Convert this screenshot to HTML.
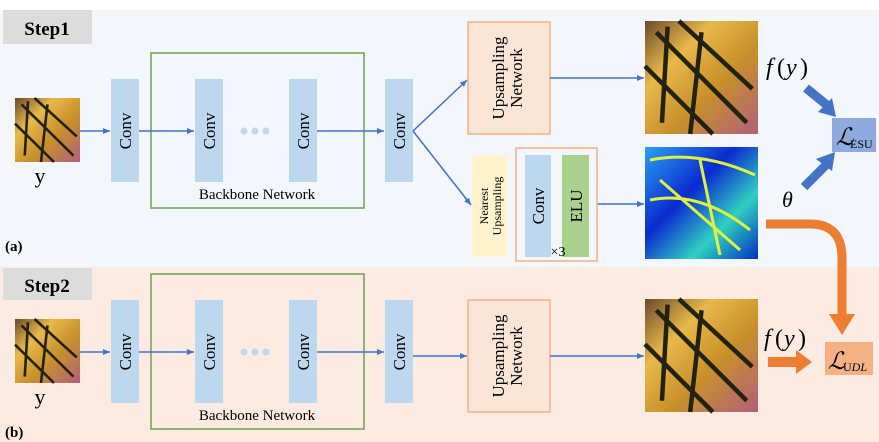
<!DOCTYPE html>
<html><head><style>body{margin:0;background:#fff;overflow:hidden}svg{display:block}</style></head><body>
<svg width="879" height="442" viewBox="0 0 879 442" xmlns="http://www.w3.org/2000/svg" font-family="Liberation Serif, serif">
<defs>
<marker id="a" markerWidth="8" markerHeight="8" refX="7" refY="4" orient="auto" markerUnits="userSpaceOnUse"><path d="M0,1 L7,4 L0,7z" fill="#4472c4"/></marker>
<linearGradient id="bf" x1="0" y1="0" x2="1" y2="1"><stop offset="0" stop-color="#6b4a2a"/><stop offset=".3" stop-color="#e8b84a"/><stop offset=".6" stop-color="#c8902a"/><stop offset="1" stop-color="#b0607a"/></linearGradient>
<linearGradient id="hm" x1="0" y1="0" x2="1" y2="1"><stop offset="0" stop-color="#2aa0f0"/><stop offset=".4" stop-color="#0a2ad0"/><stop offset=".7" stop-color="#30d0c0"/><stop offset="1" stop-color="#0030c0"/></linearGradient>
<g id="bfly"><rect width="1" height="1" fill="url(#bf)"/><path d="M.1,.1 L.9,.9 M.3,0 L.95,.6 M0,.4 L.6,1 M.2,.05 L.15,.9 M.5,.1 L.4,1" stroke="#221" stroke-width=".04" fill="none"/></g>
</defs>
<rect x="0" y="10" width="879" height="257" fill="#f3f7fc"/>
<rect x="0" y="267" width="879" height="175" fill="#fcebe2"/>
<rect x="3" y="10" width="89" height="34" fill="#dcdcdc"/>
<text x="47" y="35" font-size="19" font-weight="bold" text-anchor="middle">Step1</text>
<rect x="3" y="268" width="89" height="32" fill="#dcdcdc"/>
<text x="47" y="292" font-size="19" font-weight="bold" text-anchor="middle">Step2</text>
<text x="5" y="251" font-size="15" font-weight="bold">(a)</text>
<text x="5" y="437" font-size="15" font-weight="bold">(b)</text>

<g id="left">
<use href="#bfly" transform="translate(15,98) scale(65,64)"/>
<text x="40" y="183" font-size="22" text-anchor="middle">y</text>
<rect x="151" y="53" width="213" height="155" fill="none" stroke="#70a050" stroke-width="1.5"/>
<text x="257" y="199" font-size="15" text-anchor="middle">Backbone Network</text>
<g fill="#bdd7ee"><rect x="111" y="79" width="28" height="103"/><rect x="195" y="79" width="28" height="103"/><rect x="289" y="79" width="28" height="103"/><rect x="385" y="79" width="28" height="103"/></g>
<g fill="#bdd7ee"><circle cx="244" cy="131" r="3.5"/><circle cx="255" cy="131" r="3.5"/><circle cx="266" cy="131" r="3.5"/></g>
<g font-size="17" text-anchor="middle"><text transform="translate(131,131) rotate(-90)">Conv</text><text transform="translate(215,131) rotate(-90)">Conv</text><text transform="translate(309,131) rotate(-90)">Conv</text><text transform="translate(405,131) rotate(-90)">Conv</text></g>
<g stroke="#4472c4" stroke-width="1.5" marker-end="url(#a)"><line x1="80" y1="131" x2="110" y2="131"/><line x1="139" y1="131" x2="194" y2="131"/><line x1="317" y1="131" x2="384" y2="131"/></g>
</g>
<g id="right">
<rect x="468" y="22" width="82" height="112" fill="#fbe5d6" stroke="#f4b183" stroke-width="1.5"/>
<g font-size="17" text-anchor="middle"><text transform="translate(504,78) rotate(-90)">Upsampling</text><text transform="translate(522,78) rotate(-90)">Network</text></g>
<use href="#bfly" transform="translate(645,21) scale(113,113)"/>
<g stroke="#4472c4" stroke-width="1.5" marker-end="url(#a)"><line x1="550" y1="78" x2="644" y2="78"/></g>
</g>
<use href="#left" transform="translate(0,221)"/>
<use href="#right" transform="translate(0,278)"/>
<g stroke="#4472c4" stroke-width="1.5" marker-end="url(#a)"><line x1="413" y1="356" x2="467" y2="356"/></g>
<g stroke="#4472c4" stroke-width="1.5" fill="none" marker-end="url(#a)"><line x1="413" y1="131" x2="467" y2="80"/><line x1="413" y1="131" x2="471" y2="205"/><line x1="597" y1="204" x2="644" y2="204"/></g>
<rect x="472" y="155" width="35" height="102" fill="#fff2cc"/>
<g font-size="12" text-anchor="middle"><text transform="translate(488,206) rotate(-90)">Nearest</text><text transform="translate(501,206) rotate(-90)">Upsampling</text></g>
<rect x="516" y="148" width="81" height="113" fill="none" stroke="#f4b183" stroke-width="1.5"/>
<rect x="525" y="155" width="26" height="102" fill="#bdd7ee"/>
<rect x="562" y="155" width="27" height="102" fill="#a9d18e"/>
<g font-size="17" text-anchor="middle"><text transform="translate(544,206) rotate(-90)">Conv</text><text transform="translate(582,206) rotate(-90)">ELU</text></g>
<text x="558" y="256" font-size="14" text-anchor="middle">×3</text>
<rect x="645" y="147" width="113" height="112" fill="url(#hm)"/>
<path d="M650,160 Q700,150 755,175 M660,180 L740,250 M700,160 L720,255 M650,200 Q700,190 750,230" stroke="#e0f040" stroke-width="3" fill="none"/>
<g font-style="italic" font-size="24"><text x="766" y="75">f</text><text x="777" y="75" font-style="normal">(</text><text x="786" y="75">y</text><text x="800" y="75" font-style="normal">)</text>
<text x="764" y="346">f</text><text x="775" y="346" font-style="normal">(</text><text x="784" y="346">y</text><text x="798" y="346" font-style="normal">)</text>
<text x="782" y="207" font-size="22">θ</text></g>
<path d="M806,88 L828,106 M804,187 L826,165" stroke="#4472c4" stroke-width="9"/>
<path d="M818,112 L836,117 L832,98z M816,159 L835,152 L832,171z" fill="#4472c4"/>
<rect x="832" y="118" width="44" height="34" fill="#8faadc"/>
<text x="836" y="145" font-size="24" font-style="italic">ℒ</text><text x="850" y="148" font-size="12">ESU</text>
<path d="M766,224 L810,224 Q842,224 842,258 L842,316" stroke="#ed7d31" stroke-width="9" fill="none"/>
<path d="M829,314 L855,314 L842,335z" fill="#ed7d31"/>
<path d="M768,362 L798,362" stroke="#ed7d31" stroke-width="10"/>
<path d="M796,350 L812,362 L796,374z" fill="#ed7d31"/>
<rect x="825" y="342" width="48" height="33" fill="#f4b183"/>
<text x="828" y="369" font-size="24" font-style="italic">ℒ</text><text x="843" y="371" font-size="12">U<tspan font-style="italic">DL</tspan></text>
</svg>
</body></html>
